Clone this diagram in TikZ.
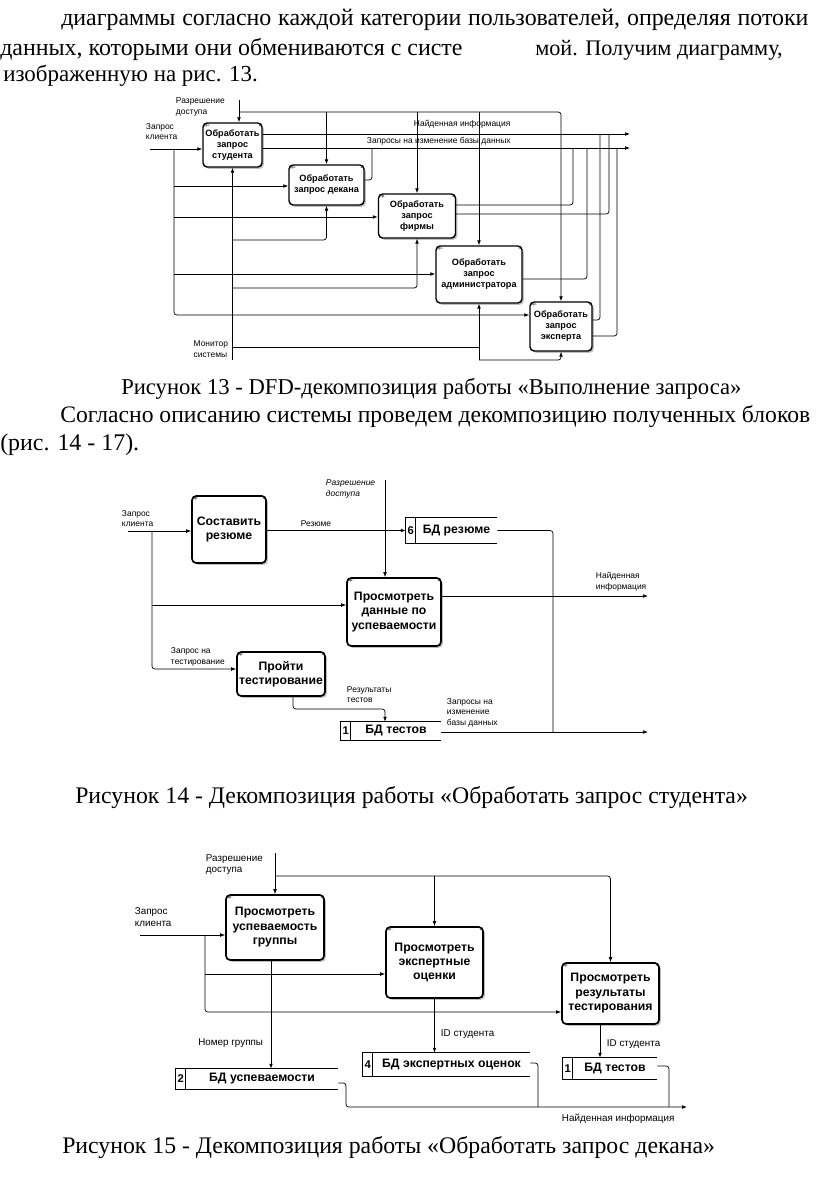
\documentclass[tikz,border=0pt]{standalone}
\usepackage{fontspec}
\setmainfont{Liberation Serif}
\newfontfamily\dfd{Liberation Sans}
\usetikzlibrary{arrows.meta, positioning, shadows}

\tikzset{
  body/.style={font=\fontsize{#1}{20}\selectfont, inner sep=0pt, anchor=base west},
  body/.default=17,
  proc/.style={draw, fill=white, line width=1pt, rounded corners=3pt, align=center, inner sep=1pt,
    drop shadow={shadow xshift=1.3pt, shadow yshift=-1.3pt, fill=black!25, opacity=1},
    label={[tagl]north west:0р.}, label={[tagr]north east:#1}},
  procs/.style={proc=#1, font=\dfd\bfseries\fontsize{6.5}{7.8}\selectfont},
  procl/.style={proc=#1, line width=1.2pt, font=\dfd\bfseries\fontsize{8.7}{10.3}\selectfont},
  tagl/.style={anchor=north west, inner sep=1pt, font=\dfd\fontsize{3}{3}\selectfont},
  tagr/.style={anchor=north east, inner sep=1pt, font=\dfd\fontsize{3}{3}\selectfont},
  flow/.style={line width=0.5pt, rounded corners=2pt, -{Latex[length=3.5pt,width=2.6pt]}},
  wire/.style={line width=0.5pt, rounded corners=2pt},
  lbls/.style={font=\dfd\fontsize{6}{7.5}\selectfont, inner sep=0.5pt, align=left},
  lbl/.style={font=\dfd\fontsize{7}{8.5}\selectfont, inner sep=0.5pt, align=left},
  dbbox/.style={inner sep=0pt},
  dbedge/.style={line width=1pt},
  dbnum/.style={font=\dfd\bfseries\fontsize{8}{8}\selectfont, inner sep=0pt},
  dbtext/.style={font=\dfd\bfseries\fontsize{8.7}{8.7}\selectfont, inner sep=0pt},
}

% data store: name, centre, width, height, number, text
\newcommand{\dbstore}[6]{%
  \node[dbbox, minimum width=#3, minimum height=#4] (#1) at (#2) {};
  \draw[dbedge] (#1.north east) -- (#1.north west) -- (#1.south west) -- (#1.south east);
  \draw[dbedge] ([xshift=0.25cm]#1.north west) -- ([xshift=0.25cm]#1.south west);
  \node[dbnum] (#1n) at ([xshift=0.125cm]#1.west) {#5};
  \node[dbtext] (#1t) at ([xshift=0.125cm]#1.center) {#6};
}

\begin{document}
\begin{tikzpicture}[x=0.025cm, y=-0.025cm]
  \fill[white] (0,0) rectangle (816,1189);
  \useasboundingbox (0,0) rectangle (816,1189);

  % text of the page
  \node[body] (p1) at (61,26) {\makebox[18.675cm][s]{диаграммы согласно каждой категории пользователей, определяя потоки}};
  \node[body] (p2) at (0,56) {данных, которыми они обмениваются с систе};
  \node[body=15.8] (p2b) at (535,56) {мой. Получим диаграмму,};
  \node[body=16.3] (p3) at (3,82) {изображенную на рис. 13.};
  \node[body=16.1] (cap13) at (121,394) {Рисунок 13 - DFD-декомпозиция работы «Выполнение запроса»};
  \node[body=16.8] (p4) at (60,422) {Согласно описанию системы проведем декомпозицию полученных блоков};
  \node[body] (p5) at (0,450) {(рис. 14 - 17).};
  \node[body=16.9] (cap14) at (75,803) {Рисунок 14 - Декомпозиция работы «Обработать запрос студента»};
  \node[body=16.9] (cap15) at (62,1153) {Рисунок 15 - Декомпозиция работы «Обработать запрос декана»};

  % figure 13
  \node[procs=1, minimum width=1.475cm, minimum height=1.1cm] (s1) at (232.5,145) {Обработать\\запрос\\студента};
  \node[procs=2, minimum width=1.875cm, minimum height=1cm] (s2) at (326.5,185) {Обработать\\запрос декана};
  \node[procs=3, minimum width=1.925cm, minimum height=1.1cm] (s3) at (417,216) {Обработать\\запрос\\фирмы};
  \node[procs=4, minimum width=2.15cm, minimum height=1.425cm] (s4) at (479,274.5) {Обработать\\запрос\\администратора};
  \node[procs=5, minimum width=1.55cm, minimum height=1.225cm] (s5) at (561,326.5) {Обработать\\запрос\\эксперта};

  \coordinate (a13) at (239,100);
  \coordinate (c13) at (150,149);
  \coordinate (f13) at (630,134);
  \coordinate (q13) at (630,148);
  \draw[flow] (a13) -- (s1.north -| a13);
  \draw[flow] (a13 |- 0,112) -| (s5.north);
  \draw[flow] (s2.north |- 0,112) -- (s2.north);
  \draw[flow] (s3.north |- 0,112) -- (s3.north);
  \draw[flow] (s4.north |- 0,112) -- (s4.north);
  \draw[flow] (s1.east |- f13) -- (f13);
  \draw[flow] (s1.east |- q13) -- (q13);
  \draw[wire] (s2.east |- 0,180) -| (372,148);
  \draw[wire] (s3.east |- 0,205) -| (573,148);
  \draw[wire] (s3.east |- 0,214) -| (609,134);
  \draw[wire] (s4.east |- 0,279) -| (587,148);
  \draw[wire] (s5.east |- 0,320) -| (600,134);
  \draw[wire] (s5.east |- 0,336) -| (617,148);
  \draw[flow] (c13) -- (s1.west |- c13);
  \draw[flow] (174,149) |- (s5.west |- 0,315);
  \draw[flow] (174,186) -- (s2.west |- 0,186);
  \draw[flow] (174,217) -- (s3.west |- 0,217);
  \draw[flow] (174,274) -- (s4.west |- 0,274);
  \draw[flow] (s1.south |- 0,360) -- (s1.south);
  \draw[flow] (232.5,240) -| (s2.south);
  \draw[flow] (232.5,288) -| (s3.south);
  \draw[wire] (232.5,347) -- (479,347);
  \draw[flow] (s4.south |- 0,360) -- (s4.south);
  \draw[flow] (s4.south |- 0,360) -| (s5.south);

  \node[lbls, anchor=south west] (l13a) at (175,117) {Разрешение\\доступа};
  \node[lbls, anchor=south west] (l13c) at (145,141) {Запрос\\клиента};
  \node[lbls, anchor=base west] (l13f) at (413,127) {Найденная информация};
  \node[lbls, anchor=base west] (l13q) at (366,144) {Запросы на изменение базы данных};
  \node[lbls, anchor=north east] (l13m) at (229,340) {Монитор\\системы};

  % figure 14
  \node[procl=1, minimum width=1.85cm, minimum height=1.675cm] (a14) at (229,529.5) {Составить\\резюме};
  \node[procl=2, minimum width=2.35cm, minimum height=1.7cm] (b14) at (394,612) {Просмотреть\\данные по\\успеваемости};
  \node[procl=3, minimum width=2.2cm, minimum height=1.1cm] (c14) at (281,674) {Пройти\\тестирование};
  \dbstore{r14}{451.5,530.5}{2.275cm}{0.625cm}{6}{БД резюме}
  \dbstore{t14}{391,731}{2.5cm}{0.45cm}{1}{БД тестов}

  \coordinate (in14) at (128,531);
  \coordinate (acc14) at (385,480);
  \draw[flow] (in14) -- (a14.west |- in14);
  \draw[flow] (152,531) |- (c14.west |- 0,669);
  \draw[flow] (152,605) -- (b14.west |- 0,605);
  \draw[flow] (a14.east |- r14.west) -- (r14.west);
  \draw[flow] (acc14) -- (acc14 |- b14.north);
  \draw[flow] (b14.east |- 0,596) -- (648,596);
  \draw[wire] (r14.east) -| (553,732);
  \draw[flow] (c14.south -| 293,0) |- (385,709) -- (t14.north -| 385,0);
  \draw[flow] (t14.east |- 0,732) -- (648,732);

  \node[lbls, anchor=south west] (l14c) at (121,528) {Запрос\\клиента};
  \node[lbls, anchor=south west, font=\dfd\itshape\fontsize{6}{7.5}\selectfont] (l14a) at (325,499) {Разрешение\\доступа};
  \node[lbls, anchor=base] (l14r) at (316,526) {Резюме};
  \node[lbls, anchor=south west] (l14t) at (170,667) {Запрос на\\тестирование};
  \node[lbls, anchor=south west] (l14s) at (346,704) {Результаты\\тестов};
  \node[lbls, anchor=south west] (l14f) at (595,592) {Найденная\\информация};
  \node[lbls, anchor=south west] (l14q) at (446,728) {Запросы на\\изменение\\базы данных};

  % figure 15
  \node[procl=1, minimum width=2.45cm, minimum height=1.625cm] (p15) at (275,927.5) {Просмотреть\\успеваемость\\группы};
  \node[procl=2, minimum width=2.425cm, minimum height=1.775cm] (q15) at (434.5,962.5) {Просмотреть\\экспертные\\оценки};
  \node[procl=3, minimum width=2.425cm, minimum height=1.525cm] (r15) at (610.5,993.5) {Просмотреть\\результаты\\тестирования};
  \dbstore{u15}{257,1079}{4.05cm}{0.5cm}{2}{БД успеваемости}
  \dbstore{e15}{446.5,1064.5}{4.175cm}{0.575cm}{4}{БД экспертных оценок}
  \dbstore{t15}{610,1068.5}{2.35cm}{0.525cm}{1}{БД тестов}

  \coordinate (acc15) at (275,853);
  \coordinate (in15) at (140,935);
  \coordinate (f15) at (687,1107);
  \draw[flow] (acc15) -- (p15.north);
  \draw[flow] (acc15 |- 0,876) -| (r15.north);
  \draw[flow] (q15.north |- 0,876) -- (q15.north);
  \draw[flow] (in15) -- (p15.west |- in15);
  \draw[flow] (205,935) |- (r15.west |- 0,1012);
  \draw[flow] (205,974) -- (q15.west |- 0,974);
  \draw[flow] (p15.south -| 271,0) -- (u15.north -| 271,0);
  \draw[flow] (q15.south) -- (q15.south |- e15.north);
  \draw[flow] (r15.south -| 600,0) -- (t15.north -| 600,0);
  \draw[flow] (u15.east |- 0,1083) -| (346,1107) -- (f15);
  \draw[wire] (e15.east |- 0,1063) -| (538,1107);
  \draw[wire] (t15.east |- 0,1066) -| (669,1107);

  \node[lbl, anchor=south west] (l15a) at (205,876) {Разрешение\\доступа};
  \node[lbl, anchor=south west] (l15c) at (134,928) {Запрос\\клиента};
  \node[lbl, anchor=base east] (l15g) at (264,1045) {Номер группы};
  \node[lbl, anchor=base west] (l15i) at (440,1036) {ID студента};
  \node[lbl, anchor=base west] (l15j) at (606,1046) {ID студента};
  \node[lbl, anchor=base west] (l15f) at (561,1121) {Найденная информация};
\end{tikzpicture}
\end{document}
